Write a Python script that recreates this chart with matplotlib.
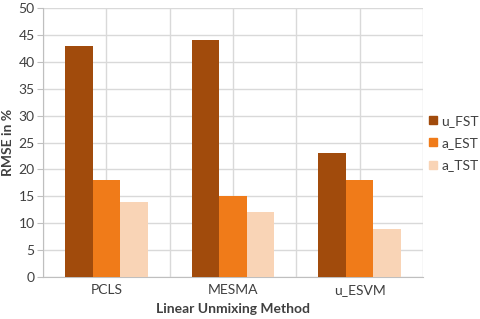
import matplotlib
matplotlib.use("Agg")
import matplotlib.pyplot as plt
import numpy as np
from matplotlib.lines import Line2D

categories = ["PCLS", "MESMA", "u_ESVM"]
series_names = ["u_FST", "a_EST", "a_TST"]
u_fst = [43, 44, 23]
a_est = [18, 15, 18]
a_tst = [14, 12, 9]
colors = ["#A14B0C", "#F07B19", "#F9D4B6"]

plt.rcParams['font.family'] = ['Lato', 'DejaVu Sans']
txt = "#404040"

fig = plt.figure(figsize=(4.8, 3.19), dpi=100)
ax = fig.add_axes([43/480, 1-277/319, (423-43)/480, (277-8)/319])

x = np.arange(len(categories))
w = 0.218
for i, (vals, c) in enumerate(zip([u_fst, a_est, a_tst], colors)):
    ax.bar(x + (i-1)*w, vals, width=w, color=c, edgecolor='none', zorder=3)

ax.set_xlim(-0.5, 2.5)
ax.set_ylim(0, 50)
ax.set_yticks(np.arange(0, 51, 5))
ax.set_xticks(x)
ax.set_xticklabels(categories)
ax.set_xticks(np.arange(-0.5, 2.6, 1.0), minor=True)
ax.grid(True, which='both', axis='x', color='#D9D9D9', lw=1, zorder=0)
ax.grid(True, which='major', axis='y', color='#D9D9D9', lw=1, zorder=0)
for s in ['top', 'right']:
    ax.spines[s].set_visible(False)
for s in ['left', 'bottom']:
    ax.spines[s].set_color('#BFBFBF')
ax.tick_params(axis='y', colors='#BFBFBF', labelcolor=txt, labelsize=10, length=4, pad=2)
ax.tick_params(axis='x', which='both', length=0, labelcolor=txt, labelsize=10, pad=5)
ax.set_ylabel("RMSE in %", fontsize=10, fontweight='bold', color=txt, labelpad=3)
ax.set_xlabel("Linear Unmixing Method", fontsize=10, fontweight='bold', color=txt, labelpad=5)

handles = [Line2D([], [], marker='s', ls='none', color=c, markersize=6) for c in colors]
fig.legend(handles, series_names, loc='center left', bbox_to_anchor=(426/480, 1-143/319),
           frameon=False, fontsize=10, labelcolor=txt, handletextpad=0.1,
           labelspacing=0.75, handlelength=1.0, borderaxespad=0, borderpad=0)

fig.savefig("out.png", dpi=100)
